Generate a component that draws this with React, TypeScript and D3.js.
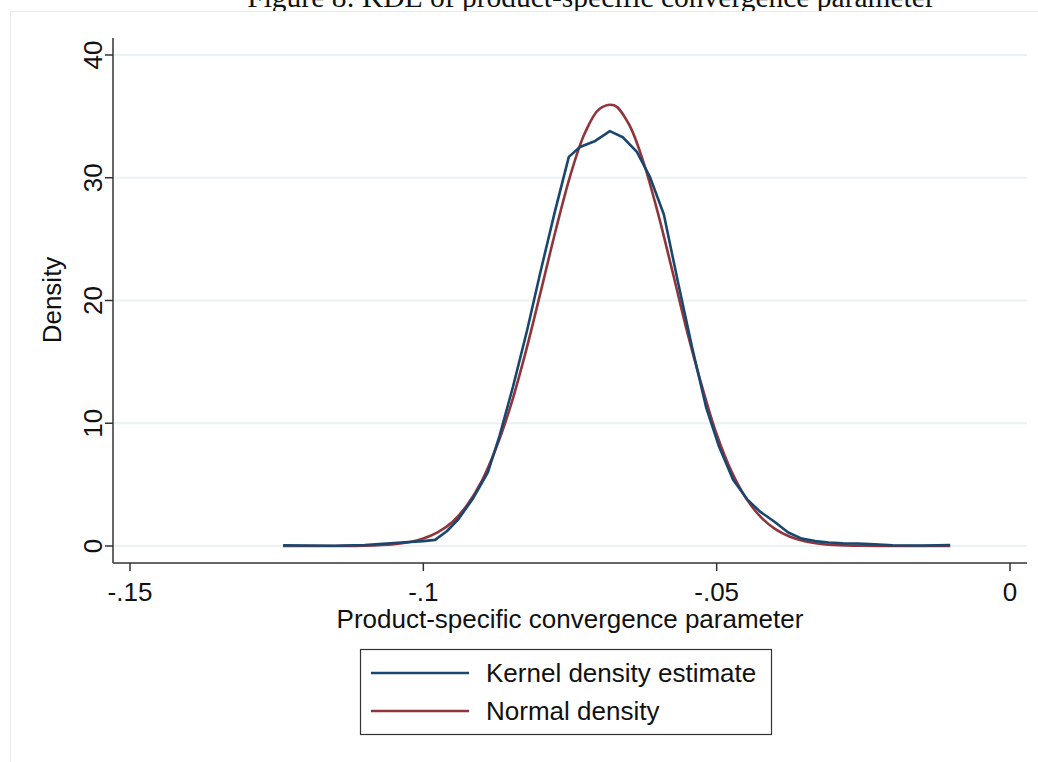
import React from "react";
import * as d3 from "d3";

const xTicks = [-0.15, -0.1, -0.05, 0];
const xTickLabels = ["-.15", "-.1", "-.05", "0"];
const yTicks = [0, 10, 20, 30, 40];
const yTickLabels = ["0", "10", "20", "30", "40"];

const kdeX = [-0.1239, -0.12, -0.115, -0.11, -0.105, -0.1, -0.098, -0.096, -0.094, -0.0915, -0.089, -0.087, -0.0847, -0.0823, -0.08, -0.0776, -0.0752, -0.0733, -0.0707, -0.0682, -0.066, -0.0636, -0.0614, -0.059, -0.0566, -0.0542, -0.0518, -0.0496, -0.0472, -0.0448, -0.0426, -0.0402, -0.0378, -0.0355, -0.0332, -0.0309, -0.0285, -0.026, -0.0239, -0.02, -0.0148, -0.0102];
const kdeY = [0.05, 0.04, 0.02, 0.08, 0.25, 0.4, 0.5, 1.2, 2.2, 3.9, 6.0, 9.0, 13.0, 17.6, 22.4, 27.2, 31.7, 32.5, 33.0, 33.8, 33.3, 32.1, 30.1, 27.0, 21.5, 16.2, 11.3, 8.1, 5.4, 3.8, 2.8, 2.0, 1.1, 0.6, 0.4, 0.28, 0.22, 0.2, 0.15, 0.06, 0.04, 0.08];

const normX = [-0.1239, -0.12, -0.115, -0.11, -0.105, -0.1025, -0.1, -0.0975, -0.095, -0.0925, -0.09, -0.0875, -0.085, -0.0825, -0.08, -0.0775, -0.075, -0.0725, -0.07, -0.0675, -0.065, -0.0625, -0.06, -0.0575, -0.055, -0.0525, -0.05, -0.0475, -0.045, -0.0425, -0.04, -0.0375, -0.035, -0.0325, -0.03, -0.025, -0.02, -0.015, -0.0102];
const normY = [0.0, 0.0, 0.005, 0.03, 0.15, 0.31, 0.61, 1.13, 1.98, 3.36, 5.33, 8.1, 11.6, 15.9, 20.7, 25.6, 30.1, 33.6, 35.6, 35.9, 34.4, 31.3, 27.1, 22.3, 17.4, 13.0, 9.1, 6.1, 3.9, 2.37, 1.37, 0.75, 0.39, 0.19, 0.09, 0.017, 0.002, 0.0, 0.0];

const seriesNames = ["Kernel density estimate", "Normal density"];
const seriesColors = ["#1a476f", "#90353b"];

const TITLE = "Figure 8: KDE of product-specific convergence parameter";
const X_TITLE = "Product-specific convergence parameter";
const Y_TITLE = "Density";

export default function App() {
  const W = 1038, H = 762;
  const plotLeft = 113, plotRight = 1027, plotTop = 38, plotBottom = 563;
  const x = d3.scaleLinear().domain([-0.15, 0]).range([130, 1010]);
  const y = d3.scaleLinear().domain([0, 40]).range([546, 55]);

  const kde = kdeX.map((v, i) => [v, kdeY[i]] as [number, number]);
  const norm = normX.map((v, i) => [v, normY[i]] as [number, number]);
  const lineLin = d3.line<[number, number]>().x(d => x(d[0])).y(d => y(d[1]));
  const lineSmooth = d3.line<[number, number]>().x(d => x(d[0])).y(d => y(d[1])).curve(d3.curveCatmullRom.alpha(0.5));

  const sans = "'Liberation Sans', Arial, sans-serif";
  const fs = 26;

  return (
    <svg width={W} height={H} style={{ position: "absolute", left: 0, top: 0, background: "#fff" }} fontFamily={sans}>
      <rect x={0} y={0} width={W} height={H} fill="#fff" />
      <text x={591} y={7} textAnchor="middle" fontFamily="'Liberation Serif', 'DejaVu Serif', serif" fontSize={29.5} fill="#111">{TITLE}</text>
      <rect x={10.5} y={11.5} width={W + 10} height={H + 10} fill="#fff" stroke="#e6eaeb" strokeWidth={1} />
      {yTicks.map(t => (
        <line key={"g" + t} x1={plotLeft} x2={plotRight} y1={y(t)} y2={y(t)} stroke="#eaf2f3" strokeWidth={2} />
      ))}
      <path d={lineSmooth(norm) || ""} fill="none" stroke={seriesColors[1]} strokeWidth={2.6} />
      <path d={lineLin(kde) || ""} fill="none" stroke={seriesColors[0]} strokeWidth={2.6} strokeLinejoin="round" />
      <line x1={plotLeft} x2={plotLeft} y1={plotTop} y2={plotBottom} stroke="#333" strokeWidth={1.5} />
      <line x1={plotLeft} x2={plotRight} y1={plotBottom} y2={plotBottom} stroke="#333" strokeWidth={1.5} />
      {yTicks.map((t, i) => (
        <g key={"yt" + t}>
          <line x1={plotLeft - 8} x2={plotLeft} y1={y(t)} y2={y(t)} stroke="#333" strokeWidth={1.5} />
          <text transform={`translate(${102},${y(t)}) rotate(-90)`} textAnchor="middle" fontSize={fs} fill="#111">{yTickLabels[i]}</text>
        </g>
      ))}
      {xTicks.map((t, i) => (
        <g key={"xt" + t}>
          <line x1={x(t)} x2={x(t)} y1={plotBottom} y2={plotBottom + 8} stroke="#333" strokeWidth={1.5} />
          <text x={x(t)} y={601} textAnchor="middle" fontSize={fs} fill="#111">{xTickLabels[i]}</text>
        </g>
      ))}
      <text x={570} y={628} textAnchor="middle" fontSize={fs} fill="#111">{X_TITLE}</text>
      <text transform={`translate(${61},${300}) rotate(-90)`} textAnchor="middle" fontSize={fs} fill="#111">{Y_TITLE}</text>
      <rect x={360.5} y={649.5} width={411} height={85} fill="#fff" stroke="#333" strokeWidth={1.2} />
      {seriesNames.map((n, i) => (
        <g key={n}>
          <line x1={371} x2={469} y1={673 + i * 38} y2={673 + i * 38} stroke={seriesColors[i]} strokeWidth={2.6} />
          <text x={486} y={682 + i * 38} fontSize={fs} fill="#111">{n}</text>
        </g>
      ))}
    </svg>
  );
}
